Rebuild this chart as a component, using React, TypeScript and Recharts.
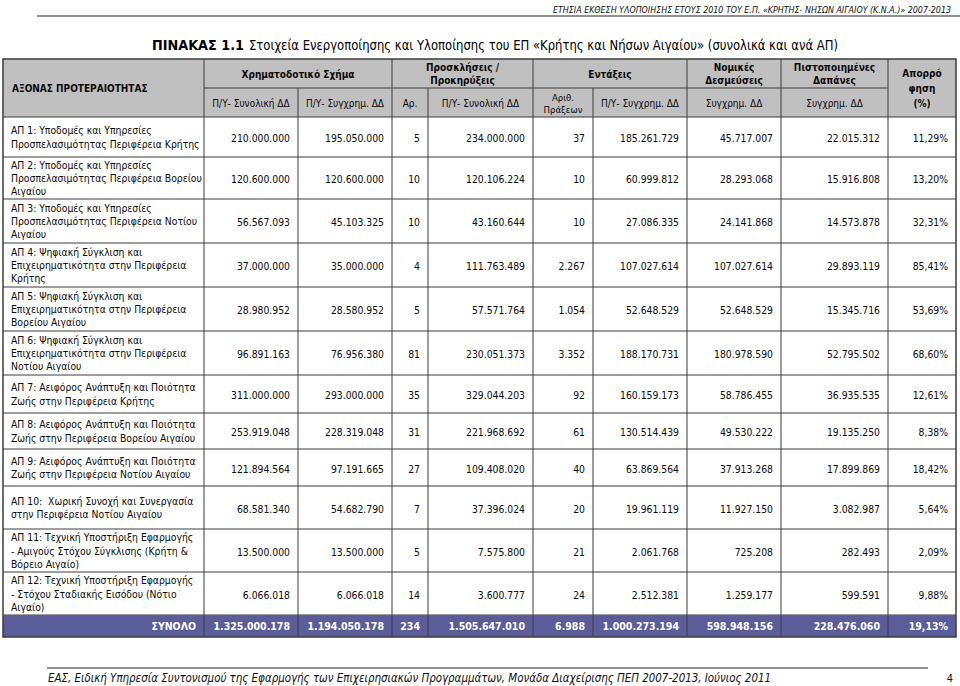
import React from 'react';
import { Surface, Layer, Rectangle } from 'recharts';

// priority axes (left column, one entry per line)
const axisNames: string[][] = [
  ['ΑΠ 1: Υποδομές και Υπηρεσίες', 'Προσπελασιμότητας Περιφέρεια Κρήτης'],
  ['ΑΠ 2: Υποδομές και Υπηρεσίες', 'Προσπελασιμότητας Περιφέρεια Βορείου', 'Αιγαίου'],
  ['ΑΠ 3: Υποδομές και Υπηρεσίες', 'Προσπελασιμότητας Περιφέρεια Νοτίου', 'Αιγαίου'],
  ['ΑΠ 4: Ψηφιακή Σύγκλιση και', 'Επιχειρηματικότητα στην Περιφέρεια', 'Κρήτης'],
  ['ΑΠ 5: Ψηφιακή Σύγκλιση και', 'Επιχειρηματικότητα στην Περιφέρεια', 'Βορείου Αιγαίου'],
  ['ΑΠ 6: Ψηφιακή Σύγκλιση και', 'Επιχειρηματικότητα στην Περιφέρεια', 'Νοτίου Αιγαίου'],
  ['ΑΠ 7: Αειφόρος Ανάπτυξη και Ποιότητα', 'Ζωής στην Περιφέρεια Κρήτης'],
  ['ΑΠ 8: Αειφόρος Ανάπτυξη και Ποιότητα', 'Ζωής στην Περιφέρεια Βορείου Αιγαίου'],
  ['ΑΠ 9: Αειφόρος Ανάπτυξη και Ποιότητα', 'Ζωής στην Περιφέρεια Νοτίου Αιγαίου'],
  ['ΑΠ 10:  Χωρική Συνοχή και Συνεργασία', 'στην Περιφέρεια Νοτίου Αιγαίου'],
  ['ΑΠ 11: Τεχνική Υποστήριξη Εφαρμογής', '- Αμιγούς Στόχου Σύγκλισης (Κρήτη &', 'Βόρειο Αιγαίο)'],
  ['ΑΠ 12: Τεχνική Υποστήριξη Εφαρμογής', '- Στόχου Σταδιακής Εισόδου (Νότιο', 'Αιγαίο)'],
];

const budgetTotal = [210000000, 120600000, 56567093, 37000000, 28980952, 96891163, 311000000, 253919048, 121894564, 68581340, 13500000, 6066018];
const budgetCofunded = [195050000, 120600000, 45103325, 35000000, 28580952, 76956380, 293000000, 228319048, 97191665, 54682790, 13500000, 6066018];
const callsCount = [5, 10, 10, 4, 5, 81, 35, 31, 27, 7, 5, 14];
const callsBudget = [234000000, 120106224, 43160644, 111763489, 57571764, 230051373, 329044203, 221968692, 109408020, 37396024, 7575800, 3600777];
const projectsCount = [37, 10, 10, 2267, 1054, 3352, 92, 61, 40, 20, 21, 24];
const projectsBudget = [185261729, 60999812, 27086335, 107027614, 52648529, 188170731, 160159173, 130514439, 63869564, 19961119, 2061768, 2512381];
const legalCommitments = [45717007, 28293068, 24141868, 107027614, 52648529, 180978590, 58786455, 49530222, 37913268, 11927150, 725208, 1259177];
const certifiedExpenses = [22015312, 15916808, 14573878, 29893119, 15345716, 52795502, 36935535, 19135250, 17899869, 3082987, 282493, 599591];
const absorption = [11.29, 13.2, 32.31, 85.41, 53.69, 68.6, 12.61, 8.38, 18.42, 5.64, 2.09, 9.88];

const totals = ['1.325.000.178', '1.194.050.178', '234', '1.505.647.010', '6.988', '1.000.273.194', '598.948.156', '228.476.060', '19,13%'];

const groupHeaders = [
  { from: 1, to: 3, lines: ['Χρηματοδοτικό Σχήμα'] },
  { from: 3, to: 5, lines: ['Προσκλήσεις /', 'Προκηρύξεις'] },
  { from: 5, to: 7, lines: ['Εντάξεις'] },
  { from: 7, to: 8, lines: ['Νομικές', 'Δεσμεύσεις'] },
  { from: 8, to: 9, lines: ['Πιστοποιημένες', 'Δαπάνες'] },
];
const subHeaders: string[][] = [
  ['Π/Υ- Συνολική ΔΔ'],
  ['Π/Υ- Συγχρημ. ΔΔ'],
  ['Αρ.'],
  ['Π/Υ- Συνολική ΔΔ'],
  ['Αριθ.', 'Πράξεων'],
  ['Π/Υ- Συγχρημ. ΔΔ'],
  ['Συγχρημ. ΔΔ'],
  ['Συγχρημ. ΔΔ'],
];

const FONT = "'DejaVu Sans Condensed', 'Liberation Sans', sans-serif";
const BORDER = '#3c3c3c';
const HEAD_BG = '#c0c0c0';
const TOTAL_BG = '#5b5d9b';

const colX = [3, 204, 298, 392, 428, 533, 593, 687, 781, 888, 956];
const headTop = 59;
const headMid = 88;
const rowY = [117, 157, 199, 243, 287, 331, 375, 413, 449, 486, 529, 572, 615, 637];

const fmt = (n: number) => String(n).replace(/\B(?=(\d{3})+(?!\d))/g, '.');
const pct = (n: number) => n.toFixed(2).replace('.', ',') + '%';

const Lines = ({ x, cy, lines, anchor = 'middle', size = 10.3, bold = false, fill = '#0a0a0a', lh = 13.4 }: any) => (
  <text
    fontFamily={FONT}
    fontSize={size}
    fontWeight={bold ? 700 : 400}
    fill={fill}
    textAnchor={anchor}
    dominantBaseline="central"
  >
    {lines.map((l: string, i: number) => (
      <tspan key={i} x={x} y={cy + (i - (lines.length - 1) / 2) * lh} xmlSpace="preserve">
        {l}
      </tspan>
    ))}
  </text>
);

export default function App() {
  const rows = axisNames.map((name, i) => [
    fmt(budgetTotal[i]),
    fmt(budgetCofunded[i]),
    String(callsCount[i]),
    fmt(callsBudget[i]),
    fmt(projectsCount[i]),
    fmt(projectsBudget[i]),
    fmt(legalCommitments[i]),
    fmt(certifiedExpenses[i]),
    pct(absorption[i]),
  ]);
  const left = colX[0];
  const right = colX[colX.length - 1];
  const bottom = rowY[rowY.length - 1];
  const totalTop = rowY[rowY.length - 2];

  return (
    <div style={{ position: 'absolute', left: 0, top: 0, background: '#fff' }}>
      <Surface width={960} height={686}>
        {/* page header */}
        <text x={553} y={12.5} fontFamily={FONT} fontStyle="italic" fontSize={9} fill="#111"
          textLength={398} lengthAdjust="spacingAndGlyphs">
          ΕΤΗΣΙΑ ΕΚΘΕΣΗ ΥΛΟΠΟΙΗΣΗΣ ΕΤΟΥΣ 2010 ΤΟΥ Ε.Π. «ΚΡΗΤΗΣ- ΝΗΣΩΝ ΑΙΓΑΙΟΥ (Κ.Ν.Α.)» 2007-2013
        </text>
        <line x1={37} x2={960} y1={16} y2={16} stroke="#222" strokeWidth={1} />

        {/* title */}
        <text x={152} y={45} fontFamily={FONT} fontWeight={700} fontSize={14} fill="#000" dominantBaseline="central"
          textLength={92} lengthAdjust="spacingAndGlyphs">
          ΠΙΝΑΚΑΣ 1.1
        </text>
        <text x={249} y={45} fontFamily={FONT} fontSize={14} fill="#000" dominantBaseline="central"
          textLength={589} lengthAdjust="spacingAndGlyphs">
          Στοιχεία Ενεργοποίησης και Υλοποίησης του ΕΠ «Κρήτης και Νήσων Αιγαίου» (συνολικά και ανά ΑΠ)
        </text>

        {/* header band */}
        <Layer>
          <Rectangle x={left} y={headTop} width={right - left} height={rowY[0] - headTop} fill={HEAD_BG} />
          <Lines x={12} cy={(headTop + rowY[0]) / 2} lines={['ΑΞΟΝΑΣ ΠΡΟΤΕΡΑΙΟΤΗΤΑΣ']} anchor="start" bold size={10} />
          {groupHeaders.map((g, i) => (
            <Lines key={i} x={(colX[g.from] + colX[g.to]) / 2} cy={(headTop + headMid) / 2} lines={g.lines} bold size={10} lh={12.5} />
          ))}
          <Lines x={(colX[9] + colX[10]) / 2} cy={(headTop + rowY[0]) / 2} lines={['Απορρό', 'φηση', '(%)']} bold size={10} lh={15} />
          {subHeaders.map((s, i) => (
            <Lines key={i} x={(colX[i + 1] + colX[i + 2]) / 2} cy={(headMid + rowY[0]) / 2} lines={s}
              size={s.length > 1 ? 9.5 : 10} lh={12} />
          ))}
          <line x1={colX[1]} x2={colX[9]} y1={headMid} y2={headMid} stroke={BORDER} />
          {[1, 3, 5, 7, 8, 9].map((c) => (
            <line key={c} x1={colX[c]} x2={colX[c]} y1={headTop} y2={headMid} stroke={BORDER} />
          ))}
          {colX.slice(1, -1).map((x, c) => (
            <line key={c} x1={x} x2={x} y1={headMid} y2={rowY[0]} stroke={BORDER} />
          ))}
        </Layer>

        {/* body rows */}
        <Layer>
          {axisNames.map((name, i) => {
            const cy = (rowY[i] + rowY[i + 1]) / 2;
            return (
              <g key={i}>
                <Lines x={11} cy={cy} lines={name} anchor="start" />
                {rows[i].map((v, c) => (
                  <Lines key={c} x={colX[c + 2] - 8} cy={cy + 1} lines={[v]} anchor="end" />
                ))}
              </g>
            );
          })}
          {rowY.slice(0, -1).map((y, i) => (
            <line key={i} x1={left} x2={right} y1={y} y2={y} stroke={BORDER} />
          ))}
          {colX.slice(1, -1).map((x, c) => (
            <line key={c} x1={x} x2={x} y1={rowY[0]} y2={bottom} stroke={BORDER} />
          ))}
        </Layer>

        {/* total row */}
        <Layer>
          <Rectangle x={left} y={totalTop} width={right - left} height={bottom - totalTop} fill={TOTAL_BG} />
          <Lines x={colX[1] - 8} cy={(totalTop + bottom) / 2} lines={['ΣΥΝΟΛΟ']} anchor="end" bold fill="#fff" size={10.5} />
          {totals.map((v, c) => (
            <Lines key={c} x={colX[c + 2] - 8} cy={(totalTop + bottom) / 2} lines={[v]} anchor="end" bold fill="#fff" size={10.5} />
          ))}
          {colX.slice(1, -1).map((x, c) => (
            <line key={c} x1={x} x2={x} y1={totalTop} y2={bottom} stroke={BORDER} />
          ))}
        </Layer>

        <rect x={left} y={headTop} width={right - left} height={bottom - headTop} fill="none" stroke={BORDER} strokeWidth={1.5} />

        {/* footer */}
        <line x1={47} x2={928} y1={668} y2={668} stroke="#222" strokeWidth={1} />
        <text x={48} y={678} fontFamily={FONT} fontStyle="italic" fontSize={12} fill="#111" dominantBaseline="central"
          textLength={723} lengthAdjust="spacingAndGlyphs">
          ΕΑΣ, Ειδική Υπηρεσία Συντονισμού της Εφαρμογής των Επιχειρησιακών Προγραμμάτων, Μονάδα Διαχείρισης ΠΕΠ 2007-2013, Ιούνιος 2011
        </text>
        <text x={950} y={678} fontFamily={FONT} fontSize={11} fill="#111" textAnchor="middle" dominantBaseline="central">
          4
        </text>
      </Surface>
    </div>
  );
}
